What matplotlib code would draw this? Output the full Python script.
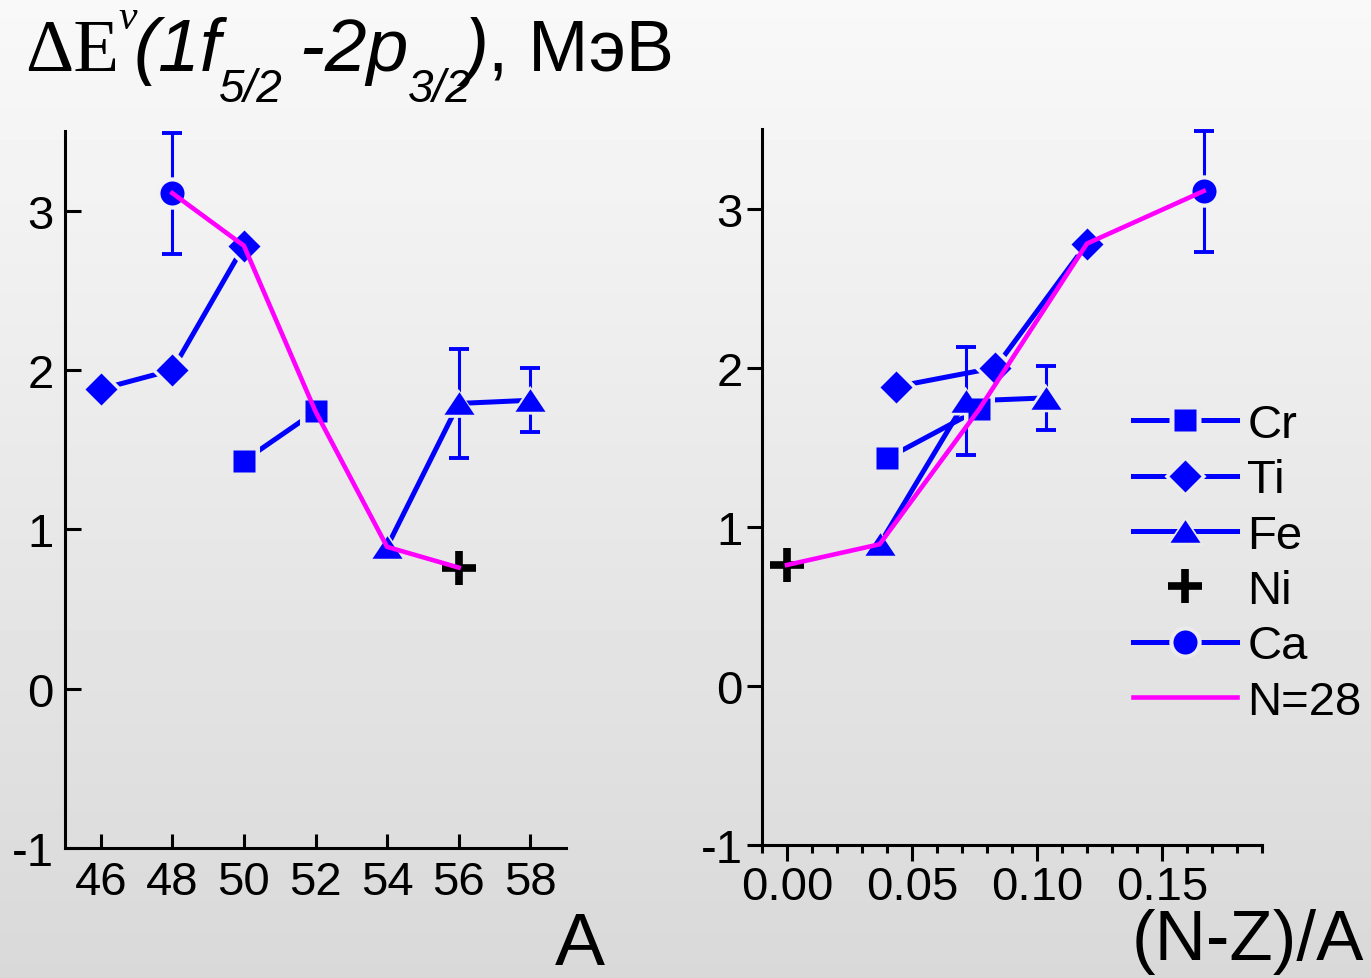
import numpy as np
import matplotlib.pyplot as plt
from matplotlib.lines import Line2D
from matplotlib.path import Path
from matplotlib.transforms import IdentityTransform
from matplotlib.ticker import FixedLocator, MultipleLocator, FormatStrFormatter

plt.rcParams['font.family'] = ['Liberation Sans', 'DejaVu Sans']
plt.rcParams['axes.unicode_minus'] = False

# energy splitting 1f5/2 - 2p3/2 for neutrons, MeV
cr_a = [50, 52]
cr_e = [1.43, 1.74]
ti_a = [46, 48, 50]
ti_e = [1.88, 2.00, 2.78]
fe_a = [54, 56, 58]
fe_e = [0.89, 1.79, 1.81]
fe_err = [0.0, 0.34, 0.20]
ni_a = [56]
ni_e = [0.76]
ca_a = [48]
ca_e = [3.11]
ca_err = [0.38]

charge = {'Cr': 24, 'Ti': 22, 'Fe': 26, 'Ni': 28, 'Ca': 20}

W, H = 1371, 979
BLUE = '#0000ff'
PINK = '#ff00ff'
BG_TOP, BG_BOTTOM = 0.975, 0.85
TICK_FS = 34

tri = Path([(-1, -0.75), (1, -0.75), (0, 0.75), (-1, -0.75)],
           [Path.MOVETO, Path.LINETO, Path.LINETO, Path.CLOSEPOLY])

# name, A, E, errors, marker, marker size
series = [
    ('Cr', cr_a, cr_e, None, 's', 16.5),
    ('Ti', ti_a, ti_e, None, 'D', 15.8),
    ('Fe', fe_a, fe_e, fe_err, tri, 21.6),
    ('Ca', ca_a, ca_e, ca_err, 'o', 17.3),
]


def asym(name, a):
    z = charge[name]
    return [(m - 2 * z) / m for m in a]


fig = plt.figure(figsize=(W / 100, H / 100), dpi=100)
bg = fig.add_axes([0, 0, 1, 1], zorder=-10)
bg.imshow(np.linspace(BG_TOP, BG_BOTTOM, 256)[:, None], aspect='auto',
          cmap='gray', vmin=0, vmax=1, extent=(0, 1, 0, 1))
bg.set_axis_off()

ax1 = fig.add_axes([65 / W, 1 - 849 / H, 501 / W, 717 / H])
ax2 = fig.add_axes([762 / W, 1 - 846 / H, 500 / W, 716 / H])
ax1.set_xlim(45, 59)
ax2.set_xlim(-0.01, 0.19)
for ax in (ax1, ax2):
    ax.set_ylim(-1, 3.5)
    ax.patch.set_alpha(0)
    for s in ('top', 'right'):
        ax.spines[s].set_visible(False)
    for s in ('left', 'bottom'):
        ax.spines[s].set_linewidth(2.2)
    ax.yaxis.set_major_locator(FixedLocator([-1, 0, 1, 2, 3]))
    ax.tick_params(labelsize=TICK_FS, width=2.2)


def shade(ax, x, y):
    # background grey right under each point, so the halo blends in
    px = ax.transData.transform(np.column_stack([x, y]))
    g = BG_TOP + (BG_BOTTOM - BG_TOP) * (1 - px[:, 1] / H)
    return [(v, v, v) for v in g]


def draw(ax, x, y, err, marker, ms):
    ax.plot(x, y, color=BLUE, lw=3.6, zorder=2)
    if err is not None:
        idx = [i for i, e in enumerate(err) if e > 0]
        ax.errorbar([x[i] for i in idx], [y[i] for i in idx],
                    yerr=[err[i] for i in idx], fmt='none', ecolor=BLUE,
                    elinewidth=2.2, capsize=7, capthick=2.8, zorder=2)
    ax.scatter(x, y, s=(ms + 6) ** 2, marker=marker, c=shade(ax, x, y),
               linewidths=0, zorder=3)
    ax.plot(x, y, ls='none', marker=marker, ms=ms, color=BLUE, mec='none',
            zorder=4)


for name, a, e, err, marker, ms in series:
    draw(ax1, a, e, err, marker, ms)
    draw(ax2, asym(name, a), e, err, marker, ms)

for ax, x in ((ax1, ni_a), (ax2, asym('Ni', ni_a))):
    ax.plot(x, ni_e, ls='none', marker='+', ms=24, mew=5.5, color='black',
            zorder=5)

# N = 28 isotones, collected from all chains
iso = []
for name, a, e, _, _, _ in series + [('Ni', ni_a, ni_e, None, None, None)]:
    for m, v in zip(a, e):
        if m - charge[name] == 28:
            iso.append((m, (m - 2 * charge[name]) / m, v))
iso.sort()
ax1.plot([p[0] for p in iso], [p[2] for p in iso], color=PINK, lw=3.3, zorder=6)
ax2.plot([p[1] for p in iso], [p[2] for p in iso], color=PINK, lw=3.3, zorder=6)

ax1.xaxis.set_major_locator(FixedLocator([46, 48, 50, 52, 54, 56, 58]))
ax1.tick_params(axis='y', direction='in', length=11.5, pad=8)
ax1.tick_params(axis='x', direction='in', length=10, pad=9)

ax2.xaxis.set_major_locator(FixedLocator([0, 0.05, 0.10, 0.15]))
ax2.xaxis.set_minor_locator(MultipleLocator(0.01))
ax2.xaxis.set_major_formatter(FormatStrFormatter('%.2f'))
ax2.tick_params(axis='y', direction='out', length=11, pad=3)
ax2.tick_params(axis='x', which='major', direction='out', length=11.5, pad=3)
ax2.tick_params(axis='x', which='minor', direction='out', length=6, width=2.2)

fig.text(605, H - 965, 'A', transform=IdentityTransform(), fontsize=54,
         ha='right', va='baseline')
fig.text(1364, H - 960, '(N-Z)/A', transform=IdentityTransform(), fontsize=51,
         ha='right', va='baseline')


def marker_handle(marker, ms):
    return (Line2D([], [], color=BLUE, lw=3.6),
            Line2D([], [], ls='none', marker=marker, ms=ms + 6,
                   color=(0.92, 0.92, 0.92), mec='none'),
            Line2D([], [], ls='none', marker=marker, ms=ms,
                   color=BLUE, mec='none'))


# legend: line, halo and marker stacked in one handle
handles = [marker_handle(m, ms) for _, _, _, _, m, ms in series[:3]]
labels = [s[0] for s in series[:3]]
handles.append(Line2D([], [], ls='none', marker='+', ms=24, mew=5.5,
                      color='black'))
labels.append('Ni')
handles.append(marker_handle(series[3][4], series[3][5]))
labels.append(series[3][0])
handles.append(Line2D([], [], color=PINK, lw=3.3))
labels.append('N=28')
ax2.legend(handles, labels, loc='upper left', bbox_to_anchor=(1133 / W, 1 - 404 / H),
           bbox_transform=fig.transFigure, frameon=False, borderpad=0,
           borderaxespad=0, handlelength=2.2, handletextpad=0.22,
           labelspacing=0.24, fontsize=34)

# title assembled piece by piece: serif symbol, italic orbitals, units
renderer = fig.canvas.get_renderer()
BASE = H - 71


def piece(x, s, size, dy=0, family='Liberation Sans', style='normal'):
    t = fig.text(x, BASE + dy, s, transform=IdentityTransform(),
                 fontsize=size, family=family, style=style,
                 ha='left', va='baseline')
    return t.get_window_extent(renderer).x1


x = 25
x = piece(x, '\u0394E', 54, family='Liberation Serif')
x = piece(x - 1, '\u03bd', 30, dy=42, family='Liberation Serif', style='italic')
x = piece(x - 3, '(1f', 54, style='italic')
x = piece(x - 2, '5/2', 33, dy=-31, style='italic')
x = piece(x - 4, ' -2p', 54, style='italic')
x = piece(x, '3/2', 33, dy=-31, style='italic')
x = piece(x - 9, ')', 54, style='italic')
piece(x, ', \u041c\u044d\u0412', 52)

fig.savefig('out.png', dpi=100)
